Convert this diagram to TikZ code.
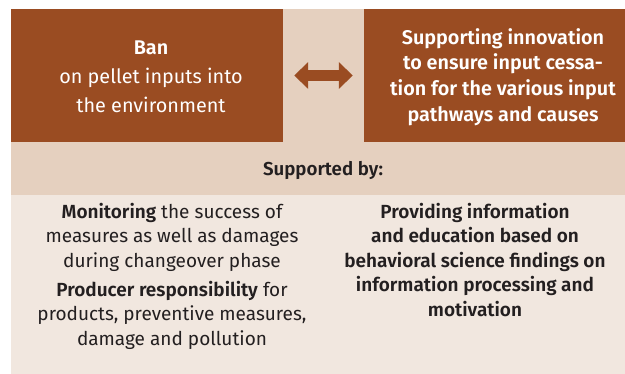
\documentclass[tikz,border=0pt]{standalone}
\usepackage{fontspec}
\setmainfont{Fira Sans}[BoldFont={Fira Sans SemiBold}]
\usetikzlibrary{arrows.meta}
\definecolor{rust}{HTML}{9A4C22}
\definecolor{sand}{HTML}{E5D0BF}
\definecolor{cream}{HTML}{F1E7DF}
\definecolor{ink}{HTML}{231F20}
\tikzset{
  topbox/.style={fill=rust, draw=none, text=white, align=center, inner sep=0pt},
  toptext/.style={text=white, align=center, inner sep=0pt},
  bodytext/.style={text=ink, align=center, inner sep=0pt,
    font=\fontsize{19}{24.5}\selectfont},
  bodybold/.style={bodytext, font=\bfseries\fontsize{19}{24.5}\selectfont},
  dblarrow/.style={draw=rust, line width=11pt,
    {Triangle[length=14pt,width=26pt]}-{Triangle[length=14pt,width=26pt]},
    shorten <=11pt, shorten >=11pt}
}
\begin{document}
\begin{tikzpicture}[x=1pt,y=-1pt]
  \useasboundingbox (0,0) rectangle (625,374);
  % background bands
  \fill[sand] (11,9) rectangle (625,195);
  \fill[cream] (11,195) rectangle (625,374);
  % the two headline boxes
  \node[topbox, minimum width=272pt, minimum height=133pt] (ban) at (147,75.5) {};
  \node[topbox, minimum width=261pt, minimum height=133pt] (innov) at (494.5,75.5) {};
  \node[toptext, font=\fontsize{19.8}{29}\selectfont] (bantext) at (151,77)
    {\textbf{Ban}\\on pellet inputs into\\the environment};
  \node[toptext, font=\bfseries\fontsize{19.8}{25.7}\selectfont] (innovtext) at (503,77)
    {Supporting innovation\\to ensure input cessa-\\tion for the various input\\pathways and causes};
  % linking arrow
  \draw[dblarrow] (ban.east) -- (innov.west);
  % supporting measures
  \node[bodybold, font=\bfseries\fontsize{18.7}{24.5}\selectfont] (sup) at (323,170) {Supported by:};
  \node[bodytext] (mon) at (172,237)
    {\textbf{Monitoring} the success of\\measures as well as damages\\during changeover phase};
  \node[bodytext] (prod) at (172,315)
    {\textbf{Producer responsibility} for\\products, preventive measures,\\damage and pollution};
  \node[bodybold] (info) at (475,260)
    {Providing information\\and education based on\\behavioral science findings on\\information processing and\\motivation};
\end{tikzpicture}
\end{document}
